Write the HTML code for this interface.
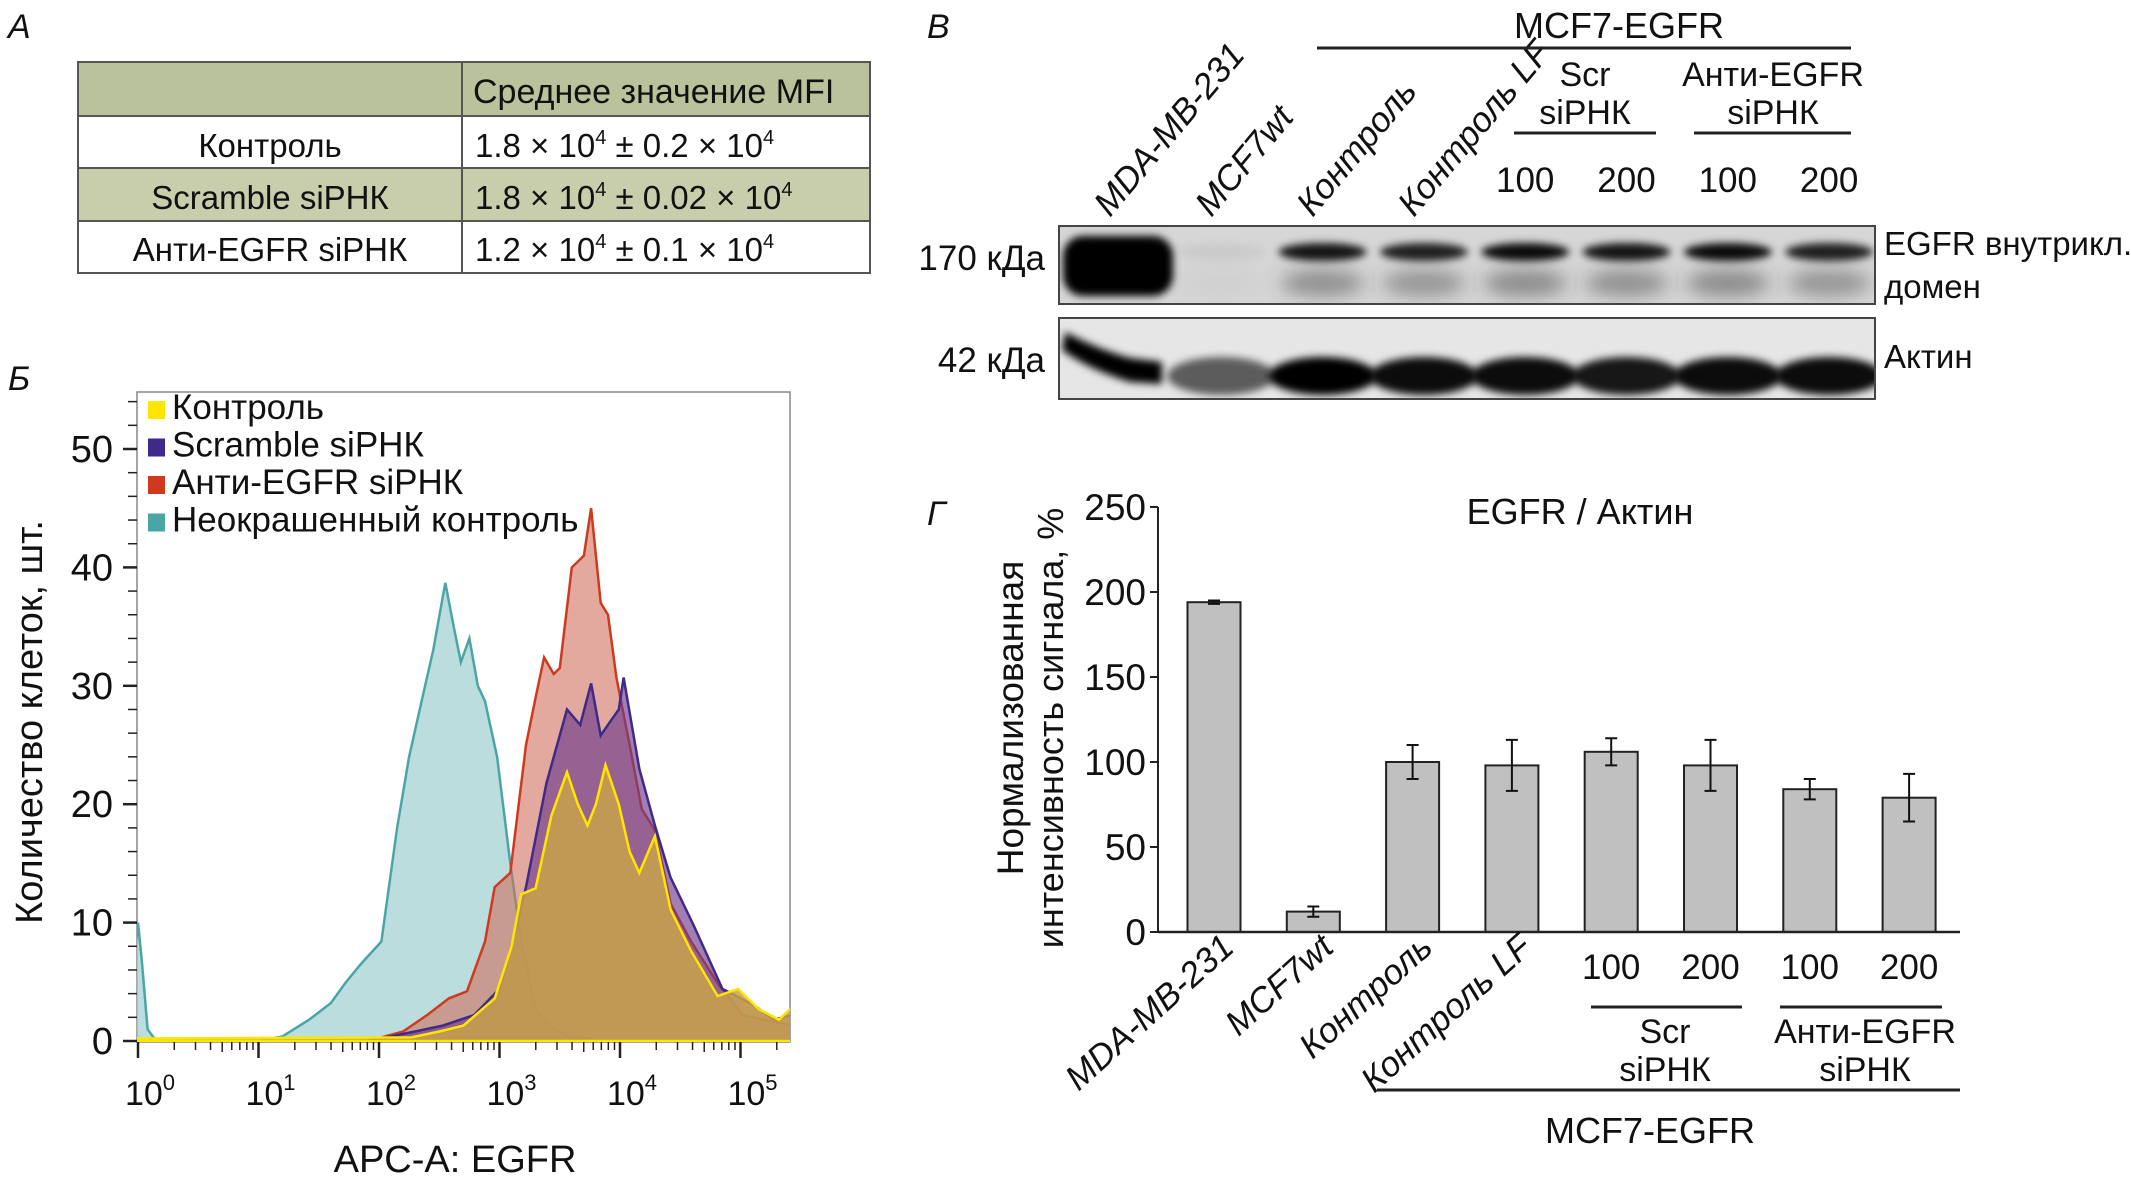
<!DOCTYPE html>
<html><head><meta charset="utf-8">
<style>
html,body{margin:0;padding:0;background:#fff;}
svg{display:block;}
text{font-family:"Liberation Sans Narrow","Liberation Sans",sans-serif;fill:#111;}
.w{font-family:"Liberation Sans",sans-serif;}
</style></head>
<body>
<svg id="fig" width="2131" height="1181" viewBox="0 0 2131 1181" xmlns="http://www.w3.org/2000/svg">
<defs>
<filter id="blur3" x="-50%" y="-50%" width="200%" height="200%"><feGaussianBlur stdDeviation="4"/></filter>
<filter id="blur6" x="-50%" y="-50%" width="200%" height="200%"><feGaussianBlur stdDeviation="9"/></filter>
<clipPath id="clipb1"><rect x="1059" y="226" width="816" height="78"/></clipPath>
<clipPath id="clipb2"><rect x="1059" y="318" width="816" height="81"/></clipPath>
<clipPath id="cliphist"><rect x="137" y="392" width="653" height="650"/></clipPath>
</defs>

<text x="8" y="38" font-size="34" font-style="italic">A</text>
<g>
<rect x="78" y="62" width="792" height="54" fill="#b9c29a"/>
<rect x="78" y="116" width="792" height="52" fill="#fff"/>
<rect x="78" y="168" width="792" height="53" fill="#c8ceab"/>
<rect x="78" y="221" width="792" height="52" fill="#fff"/>
<g stroke="#555" stroke-width="2" fill="none">
<rect x="78" y="62" width="792" height="211"/>
<line x1="78" y1="116" x2="870" y2="116"/><line x1="78" y1="168" x2="870" y2="168"/><line x1="78" y1="221" x2="870" y2="221"/>
<line x1="462" y1="62" x2="462" y2="273"/>
</g>
<text x="473" y="103" font-size="34">Среднее значение MFI</text>
<text x="270" y="157" font-size="33" text-anchor="middle">Контроль</text>
<text x="270" y="209" font-size="33" text-anchor="middle">Scramble siРНК</text>
<text x="270" y="261" font-size="33" text-anchor="middle">Анти-EGFR siРНК</text>
<text x="475" y="157" font-size="33">1.8 × 10<tspan font-size="20" dy="-13">4</tspan><tspan dy="13"> ± 0.2 × 10</tspan><tspan font-size="20" dy="-13">4</tspan></text>
<text x="475" y="209" font-size="33">1.8 × 10<tspan font-size="20" dy="-13">4</tspan><tspan dy="13"> ± 0.02 × 10</tspan><tspan font-size="20" dy="-13">4</tspan></text>
<text x="475" y="261" font-size="33">1.2 × 10<tspan font-size="20" dy="-13">4</tspan><tspan dy="13"> ± 0.1 × 10</tspan><tspan font-size="20" dy="-13">4</tspan></text>
</g>

<text x="8" y="390" font-size="34" font-style="italic">Б</text>
<g id="hist"></g>

<text x="927" y="38" font-size="34" font-style="italic">В</text>
<g id="blot"></g>

<text x="927" y="525" font-size="34" font-style="italic">Г</text>
<g id="bars"></g>
</svg>

<script>
// ---------- Histogram data (x in log10 units, y = cell counts) ----------
const tealX = [-0.1,0,0.03,0.08,0.15,1.0,1.2,1.42,1.6,1.72,1.85,2.02,2.15,2.25,2.36,2.45,2.55,2.62,2.68,2.75,2.82,2.88,2.98,3.09,3.18,3.3,3.42,3.56,3.8,5.5];
const tealY = [0,10,7,1,0,0,0.4,1.8,3.2,4.9,6.5,8.4,18,24,29,33,38.7,35,32,34,30,28.7,24,15,8.4,2.7,1.2,0.5,0.1,0];
const redX = [1.9,2.02,2.2,2.4,2.58,2.73,2.88,2.96,3.09,3.22,3.3,3.37,3.45,3.5,3.6,3.7,3.76,3.84,3.9,3.97,4.08,4.18,4.29,4.42,4.59,4.81,5.02,5.19,5.43];
const redY = [0,0.3,0.8,2.2,3.6,4.2,8.4,13,14.2,25,29,32.4,31,31.5,40,41,45,37,36,30.7,25,19.6,17.8,11.6,8.4,4.9,2.2,1.8,1.3];
const purpleX = [1.9,2.06,2.3,2.53,2.79,3.0,3.1,3.22,3.39,3.56,3.67,3.76,3.84,3.92,3.99,4.03,4.16,4.29,4.42,4.61,4.85,5.1,5.28,5.43];
const purpleY = [0,0.3,0.8,1.3,2.2,4.4,8,13,21.8,28,26.7,30.2,25.8,27,28,30.7,23,18.2,13.8,9.8,4.4,3.1,1.8,2.2];
const yellowX = [-0.1,2.27,2.5,2.7,2.96,3.1,3.18,3.3,3.43,3.56,3.65,3.73,3.8,3.88,3.99,4.08,4.16,4.29,4.42,4.59,4.81,4.98,5.15,5.32,5.43];
const yellowY = [0.2,0.3,0.8,1.3,3.6,8,12.4,12.9,19,22.7,20,18.2,20,23.3,20,16,14.2,17.3,11.1,7.6,3.8,4.4,2.7,1.8,2.9];
const histYTicks = [0,10,20,30,40,50];
const histXDecades = [0,1,2,3,4,5];
const legendLabels = ["Контроль","Scramble siРНК","Анти-EGFR siРНК","Неокрашенный контроль"];
const legendColors = ["#ffe600","#3d2a8a","#cf3a1e","#4aa6a6"];

// ---------- Bar chart data ----------
const barCategories = ["MDA-MB-231","MCF7wt","Контроль","Контроль LF","Scr 100","Scr 200","Анти-EGFR 100","Анти-EGFR 200"];
const barValues = [194,12,100,98,106,98,84,79];
const barErrors = [1,3,10,15,8,15,6,14];
const barYTicks = [0,50,100,150,200,250];

// ---------- Blot data (relative band intensity 0..1) ----------
const blotLanes = ["MDA-MB-231","MCF7wt","Контроль","Контроль LF","Scr 100","Scr 200","Анти-EGFR 100","Анти-EGFR 200"];
const egfrIntensity = [1.0,0.05,0.9,0.85,0.95,0.9,0.95,0.85];
const actinIntensity = [0.95,0.6,1.0,0.95,0.95,0.9,0.95,0.95];

const NS = "http://www.w3.org/2000/svg";
function mk(parent, tag, attrs, txt){
  const el = document.createElementNS(NS, tag);
  for (const k in attrs) el.setAttribute(k, attrs[k]);
  if (txt !== undefined) el.textContent = txt;
  parent.appendChild(el);
  return el;
}

// ===== Histogram =====
(function(){
  const g = document.getElementById('hist');
  const X0 = 138, DEC = 120.5, Y0 = 1041, PU = 11.84;
  const sx = v => X0 + v*DEC;
  const sy = v => Y0 - v*PU;
  const box = mk(g,'rect',{x:137,y:392,width:653,height:650,fill:'#fff',stroke:'#888','stroke-width':1.5});
  
  
  function area(xs, ys, fill, fop, stroke, name){
    let d = `M${sx(xs[0])},${Y0}`;
    for (let i=0;i<xs.length;i++) d += ` L${sx(xs[i]).toFixed(1)},${sy(ys[i]).toFixed(1)}`;
    d += ` L${sx(xs[xs.length-1])},${Y0} Z`;
    const p = mk(g,'path',{d:d,fill:fill,'fill-opacity':fop,stroke:stroke,'stroke-width':2.5,'clip-path':'url(#cliphist)'});
    
    
  }
  area(tealX, tealY, '#9fcfcf', 0.7, '#4aa6a6', 'series-unstained');
  area(redX, redY, '#d0705e', 0.6, '#cf3a1e', 'series-anti-egfr');
  area(purpleX, purpleY, '#6e3a8a', 0.65, '#3d2a8a', 'series-scramble');
  area(yellowX, yellowY, '#c9a24a', 0.85, '#ffe600', 'series-control');
  for (let v=0; v<=54; v+=2){
    const major = v%10===0;
    const t = mk(g,'line',{x1:major?123:128,x2:137,y1:sy(v),y2:sy(v),stroke:'#222','stroke-width':major?2.5:1.5});
    
    
  }
  histYTicks.forEach(v=>{
    const t = mk(g,'text',{x:113,y:sy(v)+13,'font-size':38,'text-anchor':'end',class:'w'}, String(v));
    
    
  });
  for (let d=0; d<=5; d++){
    for (let m=1;m<=9;m++){
      const v = d+Math.log10(m);
      if (sx(v)>790) continue;
      const t = mk(g,'line',{x1:sx(v),x2:sx(v),y1:1042,y2:m===1?1058:(m===5?1052:1050),stroke:'#222','stroke-width':m===1?2.5:1.5});
      
      
    }
  }
  histXDecades.forEach(d=>{
    const t = mk(g,'text',{x:sx(d)+12,y:1105,'font-size':34,'text-anchor':'middle',class:'w'});
    
    
    t.innerHTML = `10<tspan font-size="22" dy="-15">${d}</tspan>`;
  });
  const yt = mk(g,'text',{x:0,y:0,'font-size':38,'text-anchor':'middle',class:'w',transform:'translate(42,722) rotate(-90)'},'Количество клеток, шт.');
  
  
  const xt = mk(g,'text',{x:455,y:1172,'font-size':38,'text-anchor':'middle',class:'w'},'APC-A: EGFR');
  
  
  legendLabels.forEach((lab,i)=>{
    const y = 419 + i*37.5;
    const r = mk(g,'rect',{x:148,y:y-18,width:17,height:18,fill:legendColors[i]});
    
    
    const t = mk(g,'text',{x:172,y:y,'font-size':35,class:'w'},lab);
    
    
  });
})();

// ===== Western blot =====
(function(){
  const g = document.getElementById('blot');
  const laneX = i => 1120 + i*101.3;
  const b1 = mk(g,'rect',{x:1059,y:226,width:816,height:78,fill:'#d6d6d6'});
  
  
  const b2 = mk(g,'rect',{x:1059,y:318,width:816,height:81,fill:'#e6e6e6'});
  
  
  const g1 = mk(g,'g',{'clip-path':'url(#clipb1)'});
  const g2 = mk(g,'g',{'clip-path':'url(#clipb2)'});
  blotLanes.forEach((lab,i)=>{
    const cx = laneX(i);
    const v = egfrIntensity[i];
    if (i===0){
      const e = mk(g1,'rect',{x:cx-57,y:236,width:110,height:60,rx:20,fill:'#000',filter:'url(#blur3)'});
      
      
    } else {
      const e = mk(g1,'ellipse',{cx:cx,cy:252,rx:44,ry:9,fill:'#000','fill-opacity':v,filter:'url(#blur3)'});
      
      
      const e2 = mk(g1,'ellipse',{cx:cx,cy:283,rx:42,ry:13,fill:'#444','fill-opacity':v*0.55,filter:'url(#blur6)'});
      
      
    }
    const a = actinIntensity[i];
    if (i===0){
      const p = mk(g2,'path',{d:`M${cx-55},332 Q${cx-20},350 ${cx+10},358 L${cx+42},362 L${cx+42},384 L${cx+10},382 Q${cx-30},370 ${cx-58},350 Z`,fill:'#000',filter:'url(#blur3)'});
      
      
    } else {
      const e = mk(g2,'ellipse',{cx:cx,cy:376,rx:54,ry:19,fill:'#000','fill-opacity':a,filter:'url(#blur3)'});
      
      
    }
  });
  mk(g,'rect',{x:1059,y:226,width:816,height:78,fill:'none',stroke:'#444','stroke-width':2});
  mk(g,'rect',{x:1059,y:318,width:816,height:81,fill:'none',stroke:'#444','stroke-width':2});
  [["170 кДа",1045,270,'mw-label-170'],["42 кДа",1045,372,'mw-label-42']].forEach(l=>{
    const t = mk(g,'text',{x:l[1],y:l[2],'font-size':35,'text-anchor':'end'},l[0]);
    
    
  });
  [["EGFR внутрикл.",1884,255,'egfr-label'],["домен",1884,298,'egfr-label-domain'],["Актин",1884,368,'actin-label']].forEach(l=>{
    const t = mk(g,'text',{x:l[1],y:l[2],'font-size':33},l[0]);
    
    
  });
  ["MDA-MB-231","MCF7wt","Контроль","Контроль LF"].forEach((lab,i)=>{
    const t = mk(g,'text',{x:0,y:0,'font-size':35,'font-style':'italic',transform:`translate(${laneX(i)-10},218) rotate(-50)`},lab);
    
    
  });
  [4,5,6,7].forEach(i=>{
    const t = mk(g,'text',{x:laneX(i),y:192,'font-size':35,'text-anchor':'middle'}, i%2===0?'100':'200');
    
    
  });
  const tt = mk(g,'text',{x:1619,y:38,'font-size':36,'text-anchor':'middle'},'MCF7-EGFR');
  
  
  mk(g,'line',{x1:1317,x2:1851,y1:48,y2:48,stroke:'#222','stroke-width':3});
  [["Scr",1585,86],["siРНК",1585,124],["Анти-EGFR",1773,86],["siРНК",1773,124]].forEach(l=>{
    const t = mk(g,'text',{x:l[1],y:l[2],'font-size':34,'text-anchor':'middle'},l[0]);
    
    
  });
  mk(g,'line',{x1:1514,x2:1656,y1:133,y2:133,stroke:'#222','stroke-width':3});
  mk(g,'line',{x1:1694,x2:1851,y1:133,y2:133,stroke:'#222','stroke-width':3});
})();

// ===== Bar chart =====
(function(){
  const g = document.getElementById('bars');
  const AX = 1158, Y0 = 932, PU = 1.7, STEP = 99.3, X1 = 1214, BW = 53;
  const sy = v => Y0 - v*PU;
  const cx = i => X1 + i*STEP;
  barValues.forEach((v,i)=>{
    const r = mk(g,'rect',{x:cx(i)-BW/2,y:sy(v),width:BW,height:v*PU,fill:'#c0c0c0',stroke:'#222','stroke-width':2});
    
    
    const e = barErrors[i];
    const eb = mk(g,'path',{d:`M${cx(i)},${sy(v+e)} V${sy(v-e)} M${cx(i)-6},${sy(v+e)} H${cx(i)+6} M${cx(i)-6},${sy(v-e)} H${cx(i)+6}`,stroke:'#111','stroke-width':2,fill:'none'});
    
    
  });
  const ya = mk(g,'line',{x1:AX,x2:AX,y1:sy(250),y2:Y0,stroke:'#222','stroke-width':2});
  
  
  const xa = mk(g,'line',{x1:AX,x2:1960,y1:Y0,y2:Y0,stroke:'#222','stroke-width':2.5});
  
  
  barYTicks.forEach(v=>{
    mk(g,'line',{x1:AX-8,x2:AX,y1:sy(v),y2:sy(v),stroke:'#222','stroke-width':2});
    const t = mk(g,'text',{x:AX-12,y:sy(v)+13,'font-size':37,'text-anchor':'end'},String(v));
    
    
  });
  const tl = mk(g,'text',{x:1580,y:524,'font-size':36,'text-anchor':'middle'},'EGFR / Актин');
  
  
  const y1 = mk(g,'text',{x:0,y:0,'font-size':37,'text-anchor':'middle',class:'w',transform:'translate(1023,718) rotate(-90)'},'Нормализованная');
  
  
  const y2 = mk(g,'text',{x:0,y:0,'font-size':36,'text-anchor':'middle',class:'w',transform:'translate(1063,728) rotate(-90)'},'интенсивность сигнала, %');
  
  
  ["MDA-MB-231","MCF7wt","Контроль","Контроль LF"].forEach((lab,i)=>{
    const t = mk(g,'text',{x:0,y:0,'font-size':35,'font-style':'italic','text-anchor':'end',transform:`translate(${cx(i)+22},950) rotate(-42)`},lab);
    
    
  });
  [4,5,6,7].forEach(i=>{
    const t = mk(g,'text',{x:cx(i),y:979,'font-size':35,'text-anchor':'middle'}, i%2===0?'100':'200');
    
    
  });
  mk(g,'line',{x1:1591,x2:1742,y1:1007,y2:1007,stroke:'#222','stroke-width':3});
  mk(g,'line',{x1:1780,x2:1942,y1:1007,y2:1007,stroke:'#222','stroke-width':3});
  [["Scr",1665,1043],["siРНК",1665,1081],["Анти-EGFR",1865,1043],["siРНК",1865,1081]].forEach(l=>{
    const t = mk(g,'text',{x:l[1],y:l[2],'font-size':34,'text-anchor':'middle'},l[0]);
    
    
  });
  mk(g,'line',{x1:1377,x2:1960,y1:1090,y2:1090,stroke:'#222','stroke-width':3});
  const mt = mk(g,'text',{x:1650,y:1143,'font-size':36,'text-anchor':'middle'},'MCF7-EGFR');
  
  
})();
</script>
</body></html>
